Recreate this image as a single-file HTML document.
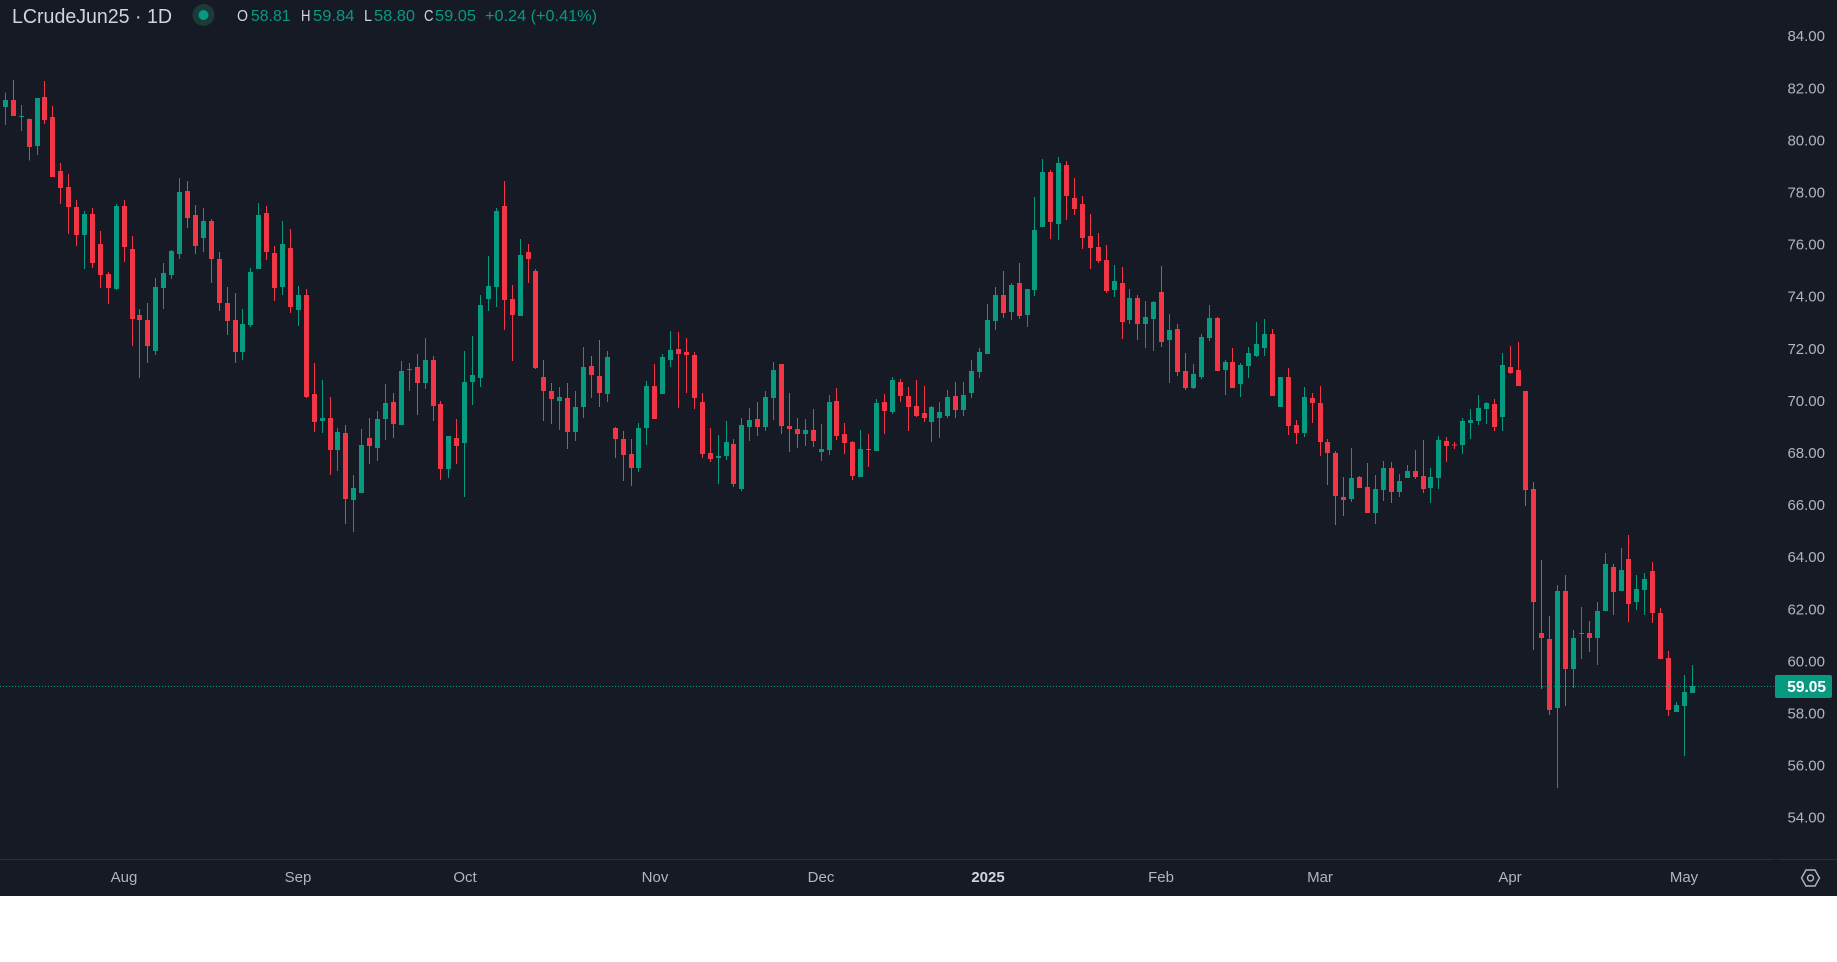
<!DOCTYPE html>
<html>
<head>
<meta charset="utf-8">
<style>
html,body{margin:0;padding:0;background:#ffffff;}
#wrap{position:relative;width:1837px;height:962px;overflow:hidden;background:#ffffff;}
svg{display:block;}
</style>
</head>
<body>
<div id="wrap">
<svg id="chart" width="1837" height="962" viewBox="0 0 1837 962" xmlns="http://www.w3.org/2000/svg">
  <rect x="0" y="0" width="1837" height="896" fill="#161a25"/>
  <g id="candles" shape-rendering="crispEdges"></g>
  <!-- current price dotted line -->
  <line x1="0" y1="686.5" x2="1775" y2="686.5" stroke="#089981" stroke-width="1" stroke-dasharray="1,2"/>
  <!-- time axis line -->
  <rect x="0" y="859" width="1775" height="1" fill="#2a2e39"/>
  <rect x="1777" y="859" width="60" height="1" fill="#2a2e39"/>
  <g id="priceLabels" font-family="Liberation Sans, sans-serif" font-size="15" fill="#b2b5be" text-anchor="end"></g>
  <!-- price tag -->
  <rect x="1775" y="675" width="57" height="23" rx="2" fill="#089981"/>
  <text x="1826" y="692" font-family="Liberation Sans, sans-serif" font-size="15.5" font-weight="bold" fill="#ffffff" text-anchor="end">59.05</text>
  <!-- time labels -->
  <g font-family="Liberation Sans, sans-serif" font-size="15" fill="#b2b5be" text-anchor="middle">
    <text x="124" y="882">Aug</text>
    <text x="298" y="882">Sep</text>
    <text x="465" y="882">Oct</text>
    <text x="655" y="882">Nov</text>
    <text x="821" y="882">Dec</text>
    <text x="988" y="882" font-weight="bold" fill="#d1d4dc">2025</text>
    <text x="1161" y="882">Feb</text>
    <text x="1320" y="882">Mar</text>
    <text x="1510" y="882">Apr</text>
    <text x="1684" y="882">May</text>
  </g>
  <!-- settings icon -->
  <g transform="translate(1810.5,878)" fill="none" stroke="#b2b5be" stroke-width="1.4">
    <polygon points="-9,0 -4.5,-8 4.5,-8 9,0 4.5,8 -4.5,8"/>
    <circle cx="0" cy="0" r="3"/>
  </g>
  <!-- header -->
  <text x="12" y="23" font-family="Liberation Sans, sans-serif" font-size="20" fill="#d1d4dc" textLength="160" lengthAdjust="spacingAndGlyphs">LCrudeJun25 · 1D</text>
  <circle cx="203.5" cy="15" r="11" fill="#1b3a38"/>
  <circle cx="203.5" cy="15" r="5" fill="#089981"/>
  <g font-family="Liberation Sans, sans-serif" font-size="16">
    <text x="237" y="21" fill="#d1d4dc" textLength="11" lengthAdjust="spacingAndGlyphs">O</text>
    <text x="251" y="21" fill="#089981" textLength="39.5" lengthAdjust="spacingAndGlyphs">58.81</text>
    <text x="301" y="21" fill="#d1d4dc" textLength="9.5" lengthAdjust="spacingAndGlyphs">H</text>
    <text x="313" y="21" fill="#089981" textLength="41.5" lengthAdjust="spacingAndGlyphs">59.84</text>
    <text x="364" y="21" fill="#d1d4dc" textLength="8" lengthAdjust="spacingAndGlyphs">L</text>
    <text x="374" y="21" fill="#089981" textLength="41" lengthAdjust="spacingAndGlyphs">58.80</text>
    <text x="424" y="21" fill="#d1d4dc" textLength="9.5" lengthAdjust="spacingAndGlyphs">C</text>
    <text x="435" y="21" fill="#089981" textLength="41" lengthAdjust="spacingAndGlyphs">59.05</text>
    <text x="485" y="21" fill="#089981" textLength="112" lengthAdjust="spacingAndGlyphs">+0.24 (+0.41%)</text>
  </g>
</svg>
</div>
<script>
(function(){
var segs=[
[70,0,[
[68,165,90,111,1],[30,138,90,138,0],[105,183,138,140,1],[145,272,147,231,0],[84,255,84,228,1],
[33,162,81,150,0],[108,321,141,321,0],[279,402,303,354,0],[312,492,351,411,0],[390,528,411,495,0],
[423,597,432,495,1],[414,594,432,579,0],[483,654,522,615,0],[606,702,612,654,0],[402,660,408,657,1],
[390,576,408,531,0],[498,828,537,747,0],[717,924,735,750,0],[699,879,750,828,0],[624,855,651,843,1],
[579,717,609,654,1],[540,627,543,615,1],[324,567,366,552,1],[333,474,363,444,0],[405,552,435,528,0],
[414,546,453,504,1],[447,639,453,567,0],[546,723,567,699,0],[651,795,699,753,0],[669,879,750,846,0],
[717,870,762,846,1],[594,771,606,765,1],[399,597,435,597,1],[408,570,429,546,0],[528,693,549,654,0],
[453,675,522,651,1],[477,729,534,711,0],[648,768,675,720,1]]],
[160,38,[
[387,714,405,711,0],[609,816,702,786,0],[660,819,774,783,1],[711,945,774,870,0],[804,933,816,870,1],
[795,1092,819,1017,0],[945,1116,984,1020,1],[807,999,855,999,1],[774,912,834,858,0],[753,903,777,864,1],
[672,840,729,777,1],[699,834,726,792,0],[603,795,633,795,1],[609,693,627,630,1],[582,765,621,669,0],
[534,687,600,669,1],[588,783,600,738,0],[723,960,732,927,0],[828,954,828,927,1],[777,912,834,858,0],
[573,1011,666,849,1],[528,735,645,666,1],[405,681,435,654,1],[288,453,378,417,1],[144,441,153,381,1],
[63,510,138,420,0],[375,603,417,465,0],[237,468,285,468,1],[252,369,276,297,0],[327,627,333,624,0],
[600,783,651,693,0],[669,792,693,717,0],[681,810,711,723,1],[669,867,714,816,0],[693,843,741,816,1],
[561,774,621,741,1]]],
[310,74,[
[138,264,168,195,0],[90,291,198,249,0],[123,276,141,252,1],[351,444,354,387,0],[363,513,387,435,0],
[387,528,432,474,0],[339,486,354,474,1],[213,405,228,354,1],[162,327,228,327,0],[132,252,141,252,1],
[63,171,120,150,1],[66,294,117,132,0],[84,249,126,135,0],[126,297,135,264,0],[249,444,276,432,0],
[354,456,429,447,0],[375,522,438,444,1],[333,450,396,438,1],[387,531,402,522,0],[324,543,345,537,1],
[294,393,330,351,1],[276,378,327,351,0],[243,363,261,351,1],[156,330,180,264,1],[162,372,162,348,0],
[249,426,348,357,0],[324,414,357,372,0],[327,408,360,372,1],[297,411,360,393,0],[342,453,417,426,1],
[255,435,276,420,1],[234,390,273,378,0],[339,432,372,399,0],[393,510,396,498,0],[360,501,417,501,1],
[372,471,417,420,0],[267,423,279,423,1]]],
[370,111,[
[72,192,96,123,0],[21,132,30,126,1],[27,96,36,78,0],[51,183,78,111,0],[30,141,108,138,0],
[48,156,129,144,0],[108,216,111,156,1],[96,204,126,144,1],[60,144,81,138,1],[36,144,78,120,0],
[36,138,75,120,1]]],
[150,122,[
[630,744,663,729,1],[594,684,606,666,1],[462,612,510,612,1],[411,540,435,513,1],[363,504,435,489,0],
[399,510,405,486,1],[339,507,399,498,0],[417,531,417,495,1],[141,438,240,420,1],[27,231,66,231,1],
[60,267,66,216,0],[21,270,39,222,1],[33,210,45,138,0],[84,195,144,177,0],[138,297,162,264,0],
[192,357,258,294,0],[249,339,291,333,0],[285,429,330,423,0],[345,441,393,420,1],[351,567,399,516,0],
[417,522,444,510,1],[435,570,444,522,0],[453,594,501,522,1],[453,603,456,507,1],[348,591,426,576,0]]],
[300,147,[
[42,249,90,120,1],[72,228,87,216,0],[159,270,213,264,0],[192,267,222,264,1],[102,237,111,231,1],
[15,123,54,114,1],[51,213,54,213,0],[180,285,186,210,1],[144,264,186,264,0],[189,291,195,252,1],
[141,234,159,198,1],[66,171,132,168,1],[57,168,102,144,1],[87,288,102,288,0],[231,321,231,321,1],
[204,405,231,378,0],[360,432,375,399,0],[261,411,291,399,1],[279,369,294,309,0],[258,468,309,426,0],
[417,555,426,459,0],[453,675,459,588,0],[531,648,591,600,0],[444,606,534,597,1],[528,564,531,564,0],
[489,639,561,639,0],[525,672,567,639,1],[483,603,504,570,1],[486,609,504,576,0],[522,591,543,576,1],
[495,534,513,534,1],[450,537,513,531,0],[420,579,528,567,0],[504,609,531,564,1],[408,567,420,534,1],
[411,486,423,438,0],[426,447,434,437,0]]],
[330,184,[
[264,372,273,345,1],[237,327,270,279,1],[195,285,234,273,1],[216,282,219,237,1],[207,303,222,291,0],
[69,303,105,261,1],[48,132,111,129,0],[36,168,120,168,0],[183,528,183,480,0],[456,960,477,816,0],
[690,1077,909,924,0],[858,1155,927,1140,0],[765,1374,783,1134,1],[735,1128,783,1017,0],[900,1074,924,1017,1],
[831,987,909,912,1],[873,966,909,924,0],[816,1005,843,924,1],[669,843,702,843,1],[702,855,711,786,0],
[654,783,720,783,1],[615,876,687,822,0],[735,840,777,816,1],[729,855,747,780,1],[696,879,723,849,0],
[834,987,849,987,0],[963,1158,984,1140,0],[1116,1146,1125,1146,1],[1035,1278,1086,1128,1],[1005,1089,1068,1089,1]]]
];
var out=[];
for(var s=0;s<segs.length;s++){
  var off=segs[s][0],start=segs[s][1],arr=segs[s][2];
  for(var k=0;k<arr.length;k++){
    var i=start+k,d=arr[k];
    var cx=5.33+7.92*i;
    var fx=Math.floor(cx);
    var col=d[4]?'#089981':'#f23645';
    var wt=off+d[0]/3,wb=off+d[1]/3,bt=off+d[2]/3,bb=off+d[3]/3;
    var bh=Math.max(1,bb-bt);
    out.push('<rect x="'+fx+'" y="'+wt.toFixed(2)+'" width="1" height="'+Math.max(1,wb-wt).toFixed(2)+'" fill="'+col+'"/>');
    out.push('<rect x="'+(fx-2)+'" y="'+bt.toFixed(2)+'" width="5" height="'+bh.toFixed(2)+'" fill="'+col+'"/>');
  }
}
document.getElementById('candles').innerHTML=out.join('');
var pl=[];
for(var p=84;p>=54;p-=2){
  var y=35.8+(84-p)*26.05;
  pl.push('<text x="1825" y="'+(y+5.4).toFixed(1)+'">'+p.toFixed(2)+'</text>');
}
document.getElementById('priceLabels').innerHTML=pl.join('');
})();
</script>
</body>
</html>
